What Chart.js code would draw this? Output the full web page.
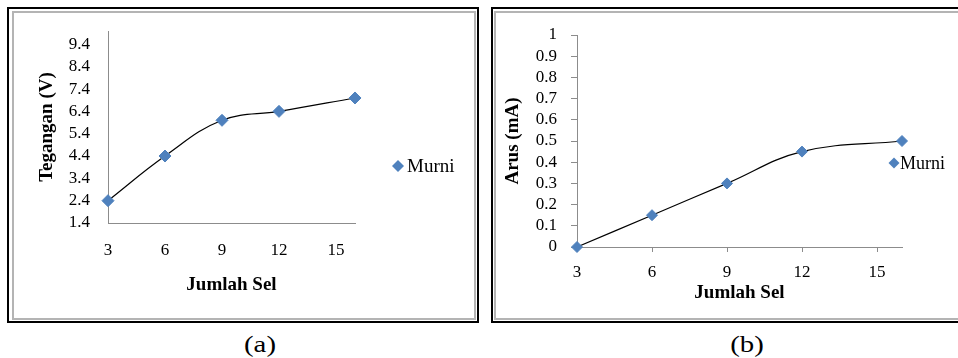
<!DOCTYPE html>
<html>
<head>
<meta charset="utf-8">
<script src="https://cdn.jsdelivr.net/npm/chart.js@4/dist/chart.umd.min.js"></script>
<style>
  html, body { margin: 0; padding: 0; background: #fff; }
  body { width: 958px; height: 358px; position: relative; overflow: hidden; }
  .frame { position: absolute; box-sizing: border-box; }
  .outer { border: 2px solid #000; }
  .inner { border: 2px solid #b4b4b4; }
  canvas { position: absolute; top: 0; }
  .caption { position: absolute; width: 100px; text-align: center;
             font-family: "Liberation Serif", "Times New Roman", serif;
             font-size: 24px; line-height: 24px; color: #000;
             transform: scaleX(1.2); }
</style>
</head>
<body>
<div class="frame outer" style="left:7px;top:7px;width:472px;height:316px;"></div>
<div class="frame inner" style="left:12px;top:11px;width:464px;height:309px;"></div>
<div class="frame outer" style="left:491px;top:7px;width:520px;height:316px;"></div>
<div class="frame inner" style="left:494px;top:11px;width:520px;height:309px;"></div>

<canvas id="chartA" width="480" height="330" style="left:0px;"></canvas>
<canvas id="chartB" width="478" height="330" style="left:480px;"></canvas>

<div class="caption" style="left:210px;top:332px;">(a)</div>
<div class="caption" style="left:697px;top:332px;">(b)</div>

<script>
// Number of cells in series (x) and the measured values
const cells = [3, 6, 9, 12, 16];
const voltage = [2.4, 4.4, 6.0, 6.4, 7.0];      // Tegangan (V)
const current = [0, 0.15, 0.30, 0.45, 0.50];    // Arus (mA)

// Axis tick labels
const cellTicks = [3, 6, 9, 12, 15];
const voltageTicks = [1.4, 2.4, 3.4, 4.4, 5.4, 6.4, 7.4, 8.4, 9.4];
const currentTicks = [0, 0.1, 0.2, 0.3, 0.4, 0.5, 0.6, 0.7, 0.8, 0.9, 1];

const seriesName = 'Murni';

const SERIF = '"Liberation Serif", "Times New Roman", serif';
const MARKER = '#4f81bd';
const AXIS = '#8c8c8c';

// Legend entry drawn to the right of the plot
const sideLegend = {
  id: 'sideLegend',
  afterDraw(chart, args, opts) {
    const ds = chart.data.datasets[0];
    const ctx = chart.ctx;
    const r = opts.radius;
    ctx.save();
    ctx.fillStyle = ds.backgroundColor;
    ctx.beginPath();
    ctx.moveTo(opts.x - r, opts.y);
    ctx.lineTo(opts.x, opts.y - r);
    ctx.lineTo(opts.x + r, opts.y);
    ctx.lineTo(opts.x, opts.y + r);
    ctx.closePath();
    ctx.fill();
    ctx.font = opts.font;
    ctx.fillStyle = '#000';
    ctx.textAlign = 'left';
    ctx.textBaseline = 'middle';
    ctx.fillText(ds.label, opts.textX, opts.y + 1);
    ctx.restore();
  }
};

function toPoints(xs, ys) {
  return xs.map((x, i) => ({ x: x, y: ys[i] }));
}

function fixedTicks(values) {
  return function (scale) {
    scale.ticks = values.map(v => ({ value: v }));
  };
}

function makeChart(id, cfg) {
  return new Chart(document.getElementById(id), {
    type: 'line',
    data: {
      datasets: [{
        label: seriesName,
        data: toPoints(cells, cfg.values),
        borderColor: '#000',
        borderWidth: 1.2,
        backgroundColor: MARKER,
        pointStyle: 'rectRot',
        pointRadius: cfg.pointRadius,
        pointBackgroundColor: MARKER,
        pointBorderColor: MARKER,
        pointBorderWidth: 1,
        tension: 0.4,
        clip: false
      }]
    },
    options: {
      responsive: false,
      animation: false,
      events: [],
      layout: { padding: cfg.padding },
      plugins: {
        legend: { display: false },
        tooltip: { enabled: false },
        sideLegend: cfg.legend
      },
      scales: {
        x: {
          type: 'linear',
          min: 3,
          max: 16,
          afterBuildTicks: fixedTicks(cellTicks),
          afterFit: s => { s.height = cfg.xHeight; },
          border: { display: true, color: AXIS, width: 1 },
          grid: {
            display: true,
            drawOnChartArea: false,
            drawTicks: cfg.xTickLen > 0,
            tickLength: cfg.xTickLen,
            color: AXIS
          },
          ticks: {
            autoSkip: false,
            padding: cfg.xTickPad,
            color: '#000',
            maxRotation: 0,
            font: { family: SERIF, size: 17 },
            callback: v => String(v)
          },
          title: {
            display: true,
            text: 'Jumlah Sel',
            color: '#000',
            font: { family: SERIF, size: 19, weight: 'bold' },
            padding: { top: 0, bottom: cfg.xTitlePad }
          }
        },
        y: {
          type: 'linear',
          min: cfg.yMin,
          max: cfg.yMax,
          afterBuildTicks: fixedTicks(cfg.yTicks),
          afterFit: s => { s.width = cfg.yWidth; },
          border: { display: true, color: AXIS, width: 1 },
          grid: {
            display: true,
            drawOnChartArea: false,
            drawTicks: cfg.yTickLen > 0,
            tickLength: cfg.yTickLen,
            color: AXIS
          },
          ticks: {
            autoSkip: false,
            padding: cfg.yTickPad,
            color: '#000',
            font: { family: SERIF, size: 17 },
            callback: v => String(v)
          },
          title: {
            display: true,
            text: cfg.yTitle,
            color: '#000',
            font: { family: SERIF, size: 19, weight: 'bold' },
            padding: { top: cfg.yTitlePad, bottom: 0 }
          }
        }
      }
    },
    plugins: [sideLegend]
  });
}

// (a) voltage against number of cells
makeChart('chartA', {
  values: voltage,
  yTicks: voltageTicks,
  yMin: 1.4, yMax: 10,
  yTitle: 'Tegangan (V)',
  pointRadius: 6,
  padding: { left: 0, top: 31, right: 125, bottom: 0 },
  yWidth: 108, xHeight: 107,
  xTickLen: 0, xTickPad: 17,
  yTickLen: 0, yTickPad: 18,
  xTitlePad: 34, yTitlePad: 36,
  legend: { x: 398, y: 166, radius: 6, textX: 407, font: '19px ' + SERIF }
});

// (b) current against number of cells
makeChart('chartB', {
  values: current,
  yTicks: currentTicks,
  yMin: 0, yMax: 1,
  yTitle: 'Arus (mA)',
  pointRadius: 5.5,
  padding: { left: 0, top: 35, right: 56, bottom: 0 },
  yWidth: 97, xHeight: 83,
  xTickLen: 5, xTickPad: 10,
  yTickLen: 6, yTickPad: 14,
  xTitlePad: 26, yTitlePad: 22,
  legend: { x: 414, y: 163, radius: 5.5, textX: 420, font: '18px ' + SERIF }
});
</script>
</body>
</html>
